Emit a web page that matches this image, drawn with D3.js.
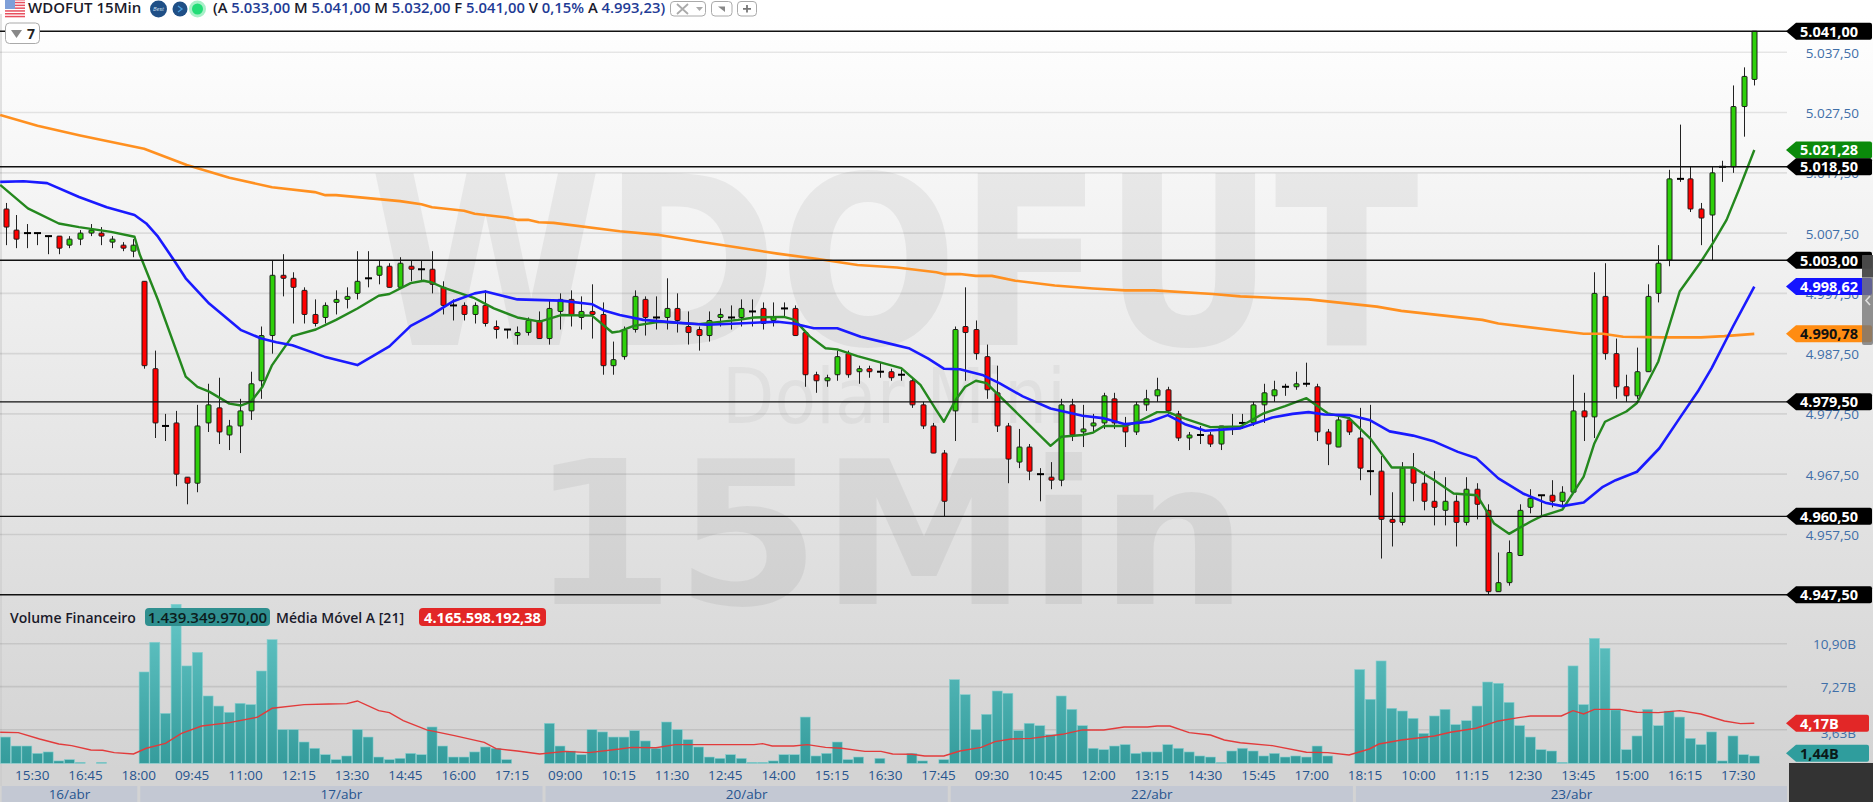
<!DOCTYPE html>
<html><head><meta charset="utf-8">
<script src="https://cdnjs.cloudflare.com/ajax/libs/d3/7.8.5/d3.min.js"></script>
<style>html,body{margin:0;padding:0;background:#fff;overflow:hidden}svg{display:block}text{font-family:"Open Sans",sans-serif}</style>
</head><body><div id="c"></div>
<script>
const candleOpen=[5011.5,5008,5007.5,5007.5,5007,5007,5005.5,5006.5,5007.5,5007.5,5006,5005.5,5004.5,
4999.5,4985,4975.5,4976,4967,4966,4976,4978.5,4974,4975.5,4978,4983,4990.5,5000.5,5000,4998,4994,4993.5,4996,4996.5,4997.5,5000,5000.5,5002,4998.5,5002,5001.5,5001.5,4998.5,4995.5,4995.5,4994,4995.5,4992,4991.5,4990.5,4991,4993,4990,4994.5,4996.5,4993.5,4994.5,4994,4985.5,
4987,4991.5,4996.5,4993.5,4993.5,4995,4992,4991.5,4990.5,4993.5,4993.5,4993.5,4994.5,4995,4993,4995,4995,4991,4984,4983,4984,4987.5,4984.5,4985,4984.5,4984.5,4984,4983,4979,4975.5,4971,4978,4992,4991.5,4987,4981,4975.5,4969.5,4972,4967.5,4967,4966.5,4979,4974.5,4975.5,4976,4980,4975.5,4974.5,4979,4980.5,4981.5,4977.5,4973.5,4974,4974,4972.5,4975,
4976,4976,4979,4980.5,4982,4982,4982.5,4982,4974.5,4972,4976.5,4973.5,4968,4968,4960,4959.5,4968.5,4966,4963,4961.5,4963,4959.5,4965,4961.5,4948,4949.5,4954,4962,4964,4964,4963,4964.5,4978,4977,4997,4987.5,4982,4980.5,4984.5,4997.5,
5003,5016.5,5016.5,5011.5,5010.5,5018.5,5018.5,5028.5,5033];
const candleHigh=[5012.5,5010.5,5009,5007.5,5007,5007,5007,5008,5009,5008.5,5007,5006,5006.5,
4999.5,4988,4977.5,4978,4967,4979,4982.5,4983.5,4976.5,4980,4984.5,4992,5003,5004,5001,4998.5,4996.5,4996,4998,4998.5,5004.5,5004.5,5003,5002.5,5003.5,5003,5003,5004.5,4999.5,4996.5,4996,4996,4998,4993,4991.5,4992,4993.5,4994.5,4996.5,4997.5,4998,4997,4999,4996,4989.5,
4992,4998,4997,4997,5000,4997.5,4994.5,4992,4994.5,4995,4995.5,4996.5,4996.5,4996,4996,4996,4995.5,4991,4984.5,4984,4988,4988,4985.5,4985.5,4986,4985,4985,4983.5,4979.5,4976,4971.5,4992,4998.5,4993,4989,4985.5,4976,4975,4972.5,4968.5,4969.5,4980,4980,4979,4977.5,4981,4981,4977,4979.5,4981.5,4983.5,4982,4978,4974.5,4975.5,4974.5,4975.5,4977.5,
4977.5,4979.5,4982.5,4983,4982.5,4984.5,4986,4982.5,4975,4977,4977,4978.5,4979,4970.5,4964.5,4969.5,4971,4968,4968,4967,4964,4967,4966,4962.5,4954.5,4956.5,4962.5,4965,4964,4966.5,4965.5,4984,4981,5001,5002.5,4990,4984,4988.5,4999,5005.5,
5018,5025.5,5018.5,5012.5,5018.5,5019.5,5032,5035,5041];
const candleLow=[5005.5,5005,5005,5005.5,5004,5004,5005,5005.5,5007,5005.5,5005,5004.5,5003.5,
4985,4973.5,4973,4965.5,4962.5,4964.5,4974.5,4972.5,4971.5,4971,4976.5,4980,4987.5,4997,4992.5,4992.5,4992,4992.5,4994,4995,4996.5,4998.5,4999,4998.5,4998.5,4999.5,4999.5,4997.5,4994,4993,4993,4992.5,4992,4990,4990,4989,4990.5,4990,4989,4991.5,4992,4991.5,4990,4984,4984,
4986.5,4991,4990.5,4991.5,4991.5,4991,4989,4988,4989.5,4992,4991.5,4992,4992,4991.5,4992,4993.5,4990.5,4982,4981,4982,4983,4983.5,4982.5,4983.5,4983.5,4983,4983,4978.5,4975,4971,4960.5,4973,4983,4986.5,4980,4974.5,4966,4968.5,4966.5,4963,4965,4965.5,4973,4972,4974.5,4975,4975,4972,4974,4978,4979.5,4977.5,4973,4971.5,4972.5,4972,4971.5,4974,
4975,4975.5,4976,4979.5,4980.5,4981.5,4982,4973,4969,4972,4974,4966.5,4964,4953.5,4955.5,4959,4963,4961.5,4959,4959,4955.5,4959,4960,4947.5,4948,4949,4954,4961,4960.5,4962,4962,4964.5,4973,4973.5,4986.5,4980,4979.5,4980,4984.5,4996,
5002,5016,5011,5005.5,5003,5016,5017.5,5023.5,5032];
const candleClose=[5008.5,5006.5,5007.5,5007.5,5007,5005,5006.5,5007.5,5008,5007,5006.5,5005,5005.5,
4985.5,4976,4975.5,4967.5,4966,4975.5,4979,4974.5,4975.5,4978,4982.5,4990.5,5000.5,5000,4998.5,4994,4992.5,4995.5,4996.5,4997,4999.5,5000,5002,4998.5,5002.5,5001.5,5001.5,4999,4995.5,4995.5,4994,4995.5,4992.5,4991.5,4991.5,4991,4993,4990,4995,4996.5,4994,4994.5,4994,4985.5,4986.5,
4991.5,4997,4993.5,4993.5,4995,4993,4991,4990.5,4993,4994,4993.5,4995,4994.5,4992.5,4993.5,4995,4990.5,4984,4983,4983.5,4987,4984,4985,4984.5,4984.5,4983.5,4984,4979,4975.5,4971,4963,4991.5,4991,4987.5,4981.5,4975.5,4970,4972,4968,4967.5,4966.5,4979,4974,4975,4976,4980.5,4976,4974.5,4979,4980,4981.5,4978,4973.5,4974,4974,4972.5,4975.5,4975,
4976,4979,4981,4981.5,4982,4982.5,4982.5,4974.5,4972.5,4976.5,4974.5,4968.5,4968,4960,4959.5,4968.5,4966,4963,4962,4963,4959.5,4965,4962.5,4948,4949.5,4954.5,4961.5,4963.5,4964,4963,4964.5,4978,4977,4997.5,4987.5,4982,4980.5,4984.5,4997,5002.5,
5016.5,5016.5,5011.5,5010,5017.5,5018.5,5028.5,5033.5,5041];

const volume=[3.01,2.25,2.25,1.63,1.75,0.99,1.10,0.87,0.6,0.87,0.6,0.6,0.6,
8.51,11.02,5.01,14.23,9.02,10.17,6.48,5.63,5.10,5.86,5.75,8.59,11.24,3.63,3.63,2.59,2.06,1.52,1.10,1.41,3.63,3.01,1.32,1.10,1.21,1.63,1.52,3.86,2.25,1.32,1.32,1.75,2.17,2.06,1.10,0.6,0.6,0.6,
4.17,2.25,1.83,1.52,3.63,3.44,3.01,3.01,3.55,2.68,2.06,4.28,3.63,2.79,2.17,1.32,1.21,1.52,1.21,0.87,0.87,0.99,1.52,1.52,4.70,1.41,1.63,2.59,1.10,1.32,0.6,1.21,0.6,0.6,1.63,0.99,0.6,1.10,
7.86,6.59,3.63,4.93,6.90,6.71,3.55,4.17,3.97,3.21,6.48,5.35,3.97,2.06,1.94,2.25,2.37,1.63,1.75,1.75,2.37,2.06,1.75,1.41,1.32,0.87,1.83,
2.06,1.83,1.41,1.63,1.32,1.41,1.32,2.25,1.41,0.6,0.6,8.71,6.20,9.44,5.44,5.21,4.59,3.32,4.79,5.35,4.06,4.39,5.63,7.66,7.55,5.94,3.97,3.01,1.94,1.83,0.87,9.02,5.75,11.35,10.51,5.30,1.94,3.10,5.35,3.97,5.21,4.70,2.90,2.37,3.44,0.99,3.10,1.52,1.41];

const orangeBar=[-0.5,3,7,13,17,21,25,29,30,31,37,39,40,43,44,47,48,49,50,51.4,57.6,61.3,65,68.7,72.4,76.2,79.9,83.6,87.3,88,89.5,91,92.5,94.7,98.4,102,105,107.7,113.2,115.8,122.2,128.6,130.9,138.5,140,148,149.8,151.7,155.5,157.4,159,161.2,164];
const orangeVal=[5027.1,5025.3,5023.7,5021.5,5018.8,5016.7,5015.1,5014.3,5013.8,5013.8,5012.8,5012.3,5011.8,5011.2,5010.7,5010.1,5009.7,5009.7,5009.3,5009.2,5007.8,5007.2,5006.1,5005.1,5004.1,5003.2,5002.2,5001.8,5001,5000.7,5000.7,5000.4,5000.4,4999.6,4998.8,4998.3,4998,4998,4997.4,4997,4996.5,4995.3,4994.6,4993.1,4992.5,4990.8,4990.8,4990.3,4990.2,4990.2,4990.2,4990.4,4990.78];
const blueBar=[-0.5,1.7,3.9,6.9,9.5,12.1,13.2,14.3,15.8,16.9,19.1,22.1,24,25.4,26.9,29.9,33,36,38,39.9,42,44,45,48,52.1,55,56.2,57.6,59.8,63.2,65.8,68.7,72.4,73.9,75.8,78,80.2,82.8,84.7,86.5,88,89.5,91.7,93.2,95.4,98,101,102.9,105,107.3,109,110.6,112.5,115.8,118.8,120.7,122.2,123.7,126,127.9,129.8,132,134,136.2,137.9,140,142.3,144.5,146,148,149.8,151,153,155.1,157,158.7,160,162,164];
const blueVal=[5016,5016.1,5015.8,5013.5,5011.8,5010.5,5009.1,5006.9,5003,5000,4995.8,4991.4,4990,4989.4,4988.9,4987,4985.6,4988.7,4992.1,4993.9,4996.2,4997.5,4997.8,4996.5,4996.3,4995.7,4994.6,4993.9,4993.1,4992.6,4992.3,4992.5,4992.8,4992.5,4991.7,4991.7,4990.3,4989.2,4988.4,4986.7,4985,4984.9,4983.9,4982.6,4980.4,4978.4,4977.2,4976.8,4975.8,4976.2,4977.3,4975.8,4974.7,4975.1,4976.9,4977.5,4977.8,4977.4,4977.3,4976.5,4974.6,4973.9,4972.9,4971.2,4970.2,4966.8,4964.3,4962.7,4962.2,4962.8,4965.4,4966.5,4967.9,4971.8,4976.8,4981.2,4985.1,4992,4998.62];
const greenBar=[-0.5,2.1,5,6.9,9.9,12.1,12.6,14.3,16.9,18,19.1,21,22.1,23,24.1,25,26.9,29.1,31,33,35,36,38,39.2,40,41,44,45.8,48,50.1,52.1,55,56.9,57.6,58.9,61.3,65,68.7,70.2,73,74,75.4,76.9,78,79.9,84,85.8,87.3,88,89.1,90,91,92,92.8,98,99,101,102,103,105,106.2,108,109,110.6,113,115.8,118,120,122,124,126,128,130,132,134,135.8,138,139.6,141,143,144,146,148,149,150,152,153,155,157,158.9,160.1,161.4,162.6,164];
const greenVal=[5015.5,5011.6,5009.1,5008.5,5007.7,5006.9,5003.9,4996.4,4983.7,4982,4981.2,4979.2,4978.9,4979.5,4982,4985.6,4990.4,4991.5,4993.1,4995,4997.1,4997.4,4999.2,4999.6,4999.3,4998.5,4996.7,4995,4993.5,4992.8,4993.9,4993.8,4991,4991.2,4992.1,4992.8,4992.4,4993.1,4993.5,4993.6,4993.1,4990.4,4988.4,4988.2,4987.1,4985.1,4982.3,4978.1,4976.2,4979.8,4982,4983,4982.6,4981.2,4972.2,4973.7,4974,4974.4,4975.5,4975.5,4976.2,4977.8,4977.8,4976.7,4975.3,4975.4,4977.6,4978.8,4980.1,4977.6,4976.8,4973.4,4968.6,4968.6,4966.5,4964.3,4964,4959.3,4957.6,4959.6,4960.5,4961.6,4967.1,4972.6,4976.2,4977.9,4979.3,4986.2,4997.8,5002.5,5005.8,5009.7,5014.9,5021.28];
const volMaBar=[-0.5,1.2,3.2,5,6.2,8,9.1,10.2,12,13.2,15,16.5,18.4,21,23.6,25,28,30.3,32,33,35,36,37.3,39.5,42.1,44.9,46,48,50.1,52.5,54.7,57.6,58.7,61,62.8,70.2,71,71.9,73.9,75.2,76.9,78.4,80.6,82.1,83.2,85,86.2,88,89.5,91.5,92.8,94.3,96.2,99.1,101,103,104.9,107.1,108,109.2,111,113,114.3,115.8,118.8,122,124,126,127.9,128.8,130.9,134,135.5,137.9,140,141.9,143,145.9,147,148,149,151.4,153,155,157,159,161.2,162.7,164];
const volMaVal=[3.41,3.38,2.84,2.42,2.28,1.92,1.89,1.69,1.58,2.06,2.48,3.32,3.94,4.23,4.68,5.44,5.75,5.80,5.83,6.06,5.24,5.07,4.39,3.61,3.13,2.56,2.03,1.83,1.58,1.80,1.69,2.0,2.14,2.11,2.37,2.37,2.45,2.25,2.25,2.37,2.14,2.06,1.80,1.80,1.58,1.55,1.41,1.41,1.83,2.14,2.62,2.84,2.90,3.24,3.61,3.61,3.86,3.86,3.94,3.94,3.38,3.18,2.76,2.53,2.28,1.72,1.69,1.49,2.0,2.42,2.76,3.10,3.41,3.75,4.37,4.65,4.79,4.79,5.24,4.96,5.35,5.35,5.10,5.07,5.24,4.96,4.37,4.14,4.17];

const priceTicks=[5037.5,5027.5,5017.5,5007.5,4997.5,4987.5,4977.5,4967.5,4957.5];
const levelLines=[5041,5018.5,5003,4979.5,4960.5,4947.5];
const volTicks=[10.90,7.27,3.63];
const timeLabels=["15:30","16:45","18:00","09:45","11:00","12:15","13:30","14:45","16:00","17:15","09:00","10:15","11:30","12:45","14:00","15:15","16:30","17:45","09:30","10:45","12:00","13:15","14:30","15:45","17:00","18:15","10:00","11:15","12:30","13:45","15:00","16:15","17:30"];
const dayLabels=["16/abr","17/abr","20/abr","22/abr","23/abr"];
const dayStartBar=[-0.5,12.5,50.5,88.5,126.5,169.3];
const fmtPt=d=>d3.format(",.2f")(d).replace(/,/g,"#").replace(".",",").replace(/#/g,".");
const fmtB=d=>d.toFixed(2).replace(".",",")+"B";

const W=1873,H=802,R=1787;
const svg=d3.select("#c").append("svg").attr("width",W).attr("height",H);
const defs=svg.append("defs");
const bg=defs.append("linearGradient").attr("id","bg").attr("gradientUnits","userSpaceOnUse").attr("x1",0).attr("x2",0).attr("y1",14).attr("y2",770);
bg.append("stop").attr("offset",0).attr("stop-color","#ffffff");
bg.append("stop").attr("offset",1).attr("stop-color","#d3d3d3");
const vg=defs.append("linearGradient").attr("id","vb").attr("gradientUnits","userSpaceOnUse").attr("x1",0).attr("x2",0).attr("y1",604).attr("y2",763);
vg.append("stop").attr("offset",0).attr("stop-color","#66c8c8");
vg.append("stop").attr("offset",1).attr("stop-color","#359c9c");
defs.append("clipPath").attr("id","plot").append("rect").attr("x",0).attr("y",14).attr("width",R).attr("height",750);

const x=d3.scaleLinear().domain([0,164]).range([5.5,1754.3]);
const y=d3.scaleLinear().domain([5037.5,4947.5]).range([52.3,594.7]);
const yv=d3.scaleLinear().domain([3.63,10.90]).range([729.7,643.7]);
const base=763.3;

svg.append("rect").attr("width",W).attr("height",H).attr("fill","#fff");
svg.append("rect").attr("y",14).attr("width",W).attr("height",H-14).attr("fill","url(#bg)");
svg.append("line").attr("x1",1).attr("x2",1).attr("y1",14).attr("y2",786).attr("stroke","#c8c8c8");

// watermark
const wm=svg.append("g");
[["WDOFUT",369,345,236,1050,700,.055],["Dolar Mini",722,423,76,344,400,.04],["15Min",530,604,200,718,700,.055]].forEach(t=>{
  wm.append("text").attr("x",t[1]).attr("y",t[2]).attr("font-size",t[3]).attr("textLength",t[4]).attr("lengthAdjust","spacingAndGlyphs")
    .attr("font-weight",t[5]).attr("fill","#000").attr("fill-opacity",t[6]).style("font-family","'DejaVu Sans'").text(t[0]);
});

// grid
const grid=svg.append("g").attr("stroke","#000").attr("stroke-opacity",.09).attr("stroke-width",1.6);
grid.selectAll(".gp").data(priceTicks).join("line").attr("x1",0).attr("x2",R).attr("y1",d=>y(d)).attr("y2",d=>y(d));
grid.selectAll(".gv").data(volTicks).join("line").attr("x1",0).attr("x2",R).attr("y1",d=>yv(d)).attr("y2",d=>yv(d));

// volume
const plot=svg.append("g").attr("clip-path","url(#plot)");
plot.append("g").selectAll("rect").data(volume.map((v,i)=>({v,i})).filter(d=>yv(d.v)<base)).join("rect")
 .attr("x",d=>x(d.i)-5).attr("width",10).attr("y",d=>yv(d.v)).attr("height",d=>base-yv(d.v))
 .attr("fill","url(#vb)").attr("stroke","#86cfcf").attr("stroke-width",.6);
const lv=d3.line().x(d=>x(d[0])).y(d=>yv(d[1]));
plot.append("path").attr("d",lv(d3.zip(volMaBar,volMaVal))).attr("fill","none").attr("stroke","#e23b3b").attr("stroke-width",1.4);

// level lines
svg.append("g").selectAll("line").data(levelLines).join("line").attr("x1",0).attr("x2",R).attr("y1",d=>y(d)).attr("y2",d=>y(d)).attr("stroke","#111").attr("stroke-width",1.4);

// candles
const cg=plot.append("g");
candleOpen.forEach((o,i)=>{
  const c=candleClose[i],h=candleHigh[i],l=candleLow[i],cx=Math.round(x(i))+.5;
  cg.append("line").attr("x1",cx).attr("x2",cx).attr("y1",y(h)).attr("y2",y(l)).attr("stroke","#222").attr("stroke-width",1);
  if(o===c){cg.append("rect").attr("x",cx-3.5).attr("width",7).attr("y",y(o)-1).attr("height",2).attr("fill","#000");}
  else{const t=y(Math.max(o,c)),b=y(Math.min(o,c));
   cg.append("rect").attr("x",cx-2.5).attr("width",5).attr("y",t).attr("height",b-t).attr("rx",.6).attr("fill",c>o?"#2ed00a":"#ff0000").attr("stroke","#1a1a1a").attr("stroke-width",1);}
});
// moving averages
const lp=d3.line().x(d=>x(d[0])).y(d=>y(d[1]));
[[orangeBar,orangeVal,"#ff9020",2.6],[greenBar,greenVal,"#24881e",2.4],[blueBar,blueVal,"#1a1aff",2.6]].forEach(s=>{
  plot.append("path").attr("d",lp(d3.zip(s[0],s[1]))).attr("fill","none").attr("stroke",s[2]).attr("stroke-width",s[3]).attr("stroke-linejoin","round");
});

// axis labels
const AX="#3f6fa8";
svg.append("g").selectAll("text").data(priceTicks).join("text").attr("x",1859).attr("y",d=>y(d)+5.5).attr("text-anchor","end").attr("font-size",13.5).attr("fill",AX).text(fmtPt);
svg.append("g").selectAll("text").data(volTicks).join("text").attr("x",1856).attr("y",d=>yv(d)+5.5+(d===3.63?2.5:0)).attr("text-anchor","end").attr("font-size",13.5).attr("fill",AX).text(fmtB);

function tag(yc,fill,txt,col,w){
  const g=svg.append("g");
  const h=8.5;
  g.append("path").attr("d",`M1786,${yc} L1796,${yc-h} H${w-2} Q${w},${yc-h} ${w},${yc-h+2} V${yc+h-2} Q${w},${yc+h} ${w-2},${yc+h} H1796 Z`).attr("fill",fill);
  g.append("text").attr("x",1800).attr("y",yc+5.3).attr("font-size",14.5).attr("font-weight",700).attr("fill",col).text(txt);
}
levelLines.forEach(v=>{ if(v!==5018.5) tag(y(v),"#000",fmtPt(v),"#fff",1872); });
tag(y(5021.28),"#0b8a0b",fmtPt(5021.28),"#fff",1872);
tag(y(5018.5),"#000",fmtPt(5018.5),"#fff",1872);
tag(y(4998.62),"#1414ff",fmtPt(4998.62),"#fff",1872);
tag(y(4990.78),"#ff8c12",fmtPt(4990.78),"#111",1872);
tag(yv(4.17),"#e22727",fmtB(4.17),"#fff",1869);
tag(yv(1.44)-2.3,"#2f9d9d",fmtB(1.44),"#0a1a1a",1869);

// scroll handle
svg.append("rect").attr("x",1862).attr("y",255).attr("width",11).attr("height",90).attr("rx",2).attr("fill","#777").attr("fill-opacity",.8);
svg.append("rect").attr("x",1862).attr("y",255).attr("width",11).attr("height",22).attr("fill","#444").attr("fill-opacity",.85);
svg.append("path").attr("d","M1870,296 L1866,300.5 L1870,305").attr("fill","none").attr("stroke","#ddd").attr("stroke-width",1.6);

// time axis
svg.append("g").selectAll("text").data(timeLabels).join("text").attr("x",(d,i)=>x(2.5+5*i)).attr("y",780).attr("text-anchor","middle").attr("font-size",13.5).attr("font-weight",500).attr("fill","#27558f").text(d=>d);
const days=svg.append("g");
dayLabels.forEach((d,i)=>{
  const a=x(dayStartBar[i])+1.5,b=Math.min(x(dayStartBar[i+1])-1.5,R);
  days.append("rect").attr("x",a).attr("y",786).attr("width",b-a).attr("height",16).attr("fill","#c3c8d3");
  days.append("text").attr("x",(a+b)/2).attr("y",799).attr("text-anchor","middle").attr("font-size",13.5).attr("font-weight",500).attr("fill","#27558f").text(d);
});
svg.append("rect").attr("x",1789).attr("y",763).attr("width",84).attr("height",39).attr("fill","#333");

// volume legend
const lg=svg.append("g");
lg.append("text").attr("x",10).attr("y",623).attr("font-size",14).attr("font-weight",600).attr("fill","#1a1a2a").text("Volume Financeiro");
lg.append("rect").attr("x",145).attr("y",608).attr("width",125).attr("height",18).attr("rx",4).attr("fill","#2f8f8f");
lg.append("text").attr("x",207.5).attr("y",623).attr("text-anchor","middle").attr("font-size",15).attr("font-weight",600).attr("fill","#0c1c1c").text("1.439.349.970,00");
lg.append("text").attr("x",276).attr("y",623).attr("font-size",14).attr("font-weight",600).attr("fill","#1a1a2a").text("Média Móvel A [21]");
lg.append("rect").attr("x",419).attr("y",608).attr("width",127).attr("height",18).attr("rx",4).attr("fill","#e22727");
lg.append("text").attr("x",482.5).attr("y",623).attr("text-anchor","middle").attr("font-size",14.6).attr("font-weight",700).attr("fill","#fff").text("4.165.598.192,38");

// header
const hd=svg.append("g");
d3.range(7).forEach(i=>hd.append("rect").attr("x",5).attr("y",i*2.8-1).attr("width",20).attr("height",1.5).attr("fill","#e8505f"));
hd.append("rect").attr("x",5).attr("y",0).attr("width",10).attr("height",9).attr("fill","#7e9fd8");
hd.append("text").attr("x",28).attr("y",13).attr("font-size",15).attr("font-weight",600).attr("fill","#1a1a2a").text("WDOFUT 15Min");
hd.append("circle").attr("cx",158.5).attr("cy",9).attr("r",8.5).attr("fill","#1f4f86");
hd.append("text").attr("x",158.5).attr("y",11).attr("text-anchor","middle").attr("font-size",6).attr("font-style","italic").attr("fill","#cfe0f0").text("Best");
hd.append("circle").attr("cx",180).attr("cy",9).attr("r",7.5).attr("fill","#1f4f86");
hd.append("path").attr("d","M178,6 L182,9 L178,12").attr("fill","none").attr("stroke","#4aa0e0").attr("stroke-width",1.3);
hd.append("circle").attr("cx",197.5).attr("cy",9).attr("r",8.5).attr("fill","#a8f0c8");
hd.append("circle").attr("cx",197.5).attr("cy",9).attr("r",5.5).attr("fill","#22dd77");
const qt=hd.append("text").attr("x",213).attr("y",13).attr("font-size",14.8).attr("font-weight",600);
[["(A ",0],["5.033,00",1],[" M ",0],["5.041,00",1],[" M ",0],["5.032,00",1],[" F ",0],["5.041,00",1],[" V ",0],["0,15%",1],[" A ",0],["4.993,23",1],[")",1]].forEach(p=>{
  qt.append("tspan").attr("fill",p[1]?"#1f3c96":"#1a1a2a").text(p[0]);
});
const btn=(bx,bw)=>hd.append("rect").attr("x",bx).attr("y",1.5).attr("width",bw).attr("height",14.5).attr("rx",3.5).attr("fill","#fff").attr("stroke","#aaa").attr("stroke-width",1);
btn(670.5,35);btn(711.5,20.5);btn(737.5,19);
hd.append("path").attr("d","M677,4 L688,14 M688,4 L677,14").attr("stroke","#aaa").attr("stroke-width",1.8);
hd.append("path").attr("d","M696,7 H703 L699.5,11 Z").attr("fill","#aaa");
hd.append("path").attr("d","M718,6.5 H725 V12 Z").attr("fill","#888");
hd.append("path").attr("d","M743,8.8 H751 M747,5 V12.6").attr("stroke","#777").attr("stroke-width",1.8);
// filter button
svg.append("rect").attr("x",5.5).attr("y",23).attr("width",34).attr("height",20.5).attr("rx",4).attr("fill","#fff").attr("stroke","#aaa");
svg.append("path").attr("d","M11,30 H22 L16.5,38 Z").attr("fill","#888");
svg.append("text").attr("x",27).attr("y",39).attr("font-size",14).attr("font-weight",700).attr("fill","#222").text("7");
</script></body></html>
